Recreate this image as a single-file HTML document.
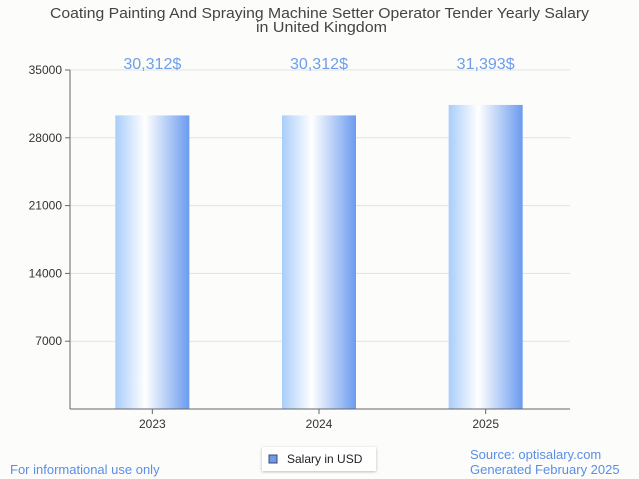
<!DOCTYPE html>
<html><head><meta charset="utf-8">
<style>
body{margin:0;background:#fcfcfa;font-family:"Liberation Sans",sans-serif;}
svg{display:block}
</style></head>
<body>
<svg width="639" height="479" viewBox="0 0 639 479">
<defs>
<linearGradient id="bg" x1="0" x2="1" y1="0" y2="0">
<stop offset="0" stop-color="#a9cdfa"/>
<stop offset="0.4" stop-color="#ffffff"/>
<stop offset="1" stop-color="#6b9bef"/>
</linearGradient>
<filter id="sh"><feDropShadow dx="0" dy="1" stdDeviation="1.5" flood-opacity="0.25"/></filter>
</defs>
<rect width="639" height="479" fill="#fcfcfa"/>
<text x="50" y="18" textLength="539" lengthAdjust="spacingAndGlyphs" font-size="15" fill="#444">Coating Painting And Spraying Machine Setter Operator Tender Yearly Salary</text>
<text x="256" y="32" textLength="131" lengthAdjust="spacingAndGlyphs" font-size="15" fill="#444">in United Kingdom</text>
<g id="grid"></g>
<g id="bars"></g>
<line x1="70" y1="70" x2="70" y2="409" stroke="#666"/>
<line x1="70" y1="409" x2="570" y2="409" stroke="#666"/>
<g>
<rect x="262" y="447" width="114" height="24" fill="#fff" filter="url(#sh)"/>
<rect x="269" y="455" width="8" height="8" fill="#6b9bef" stroke="#446"/>
<text x="287" y="463" font-size="12" fill="#222">Salary in USD</text>
</g>
<text x="10" y="474" font-size="13" fill="#5b8ee6">For informational use only</text>
<text x="470" y="459" font-size="13" fill="#5b8ee6">Source: optisalary.com</text>
<text x="470" y="474" font-size="13" fill="#5b8ee6">Generated February 2025</text>
</svg>
<script>
const categories=["2023","2024","2025"];
const salaries=[30312,30312,31393];
const valueLabels=["30,312$","30,312$","31,393$"];
const yTicks=[7000,14000,21000,28000,35000];
const NS="http://www.w3.org/2000/svg";
const y0=409,yTop=70,yMax=35000,xL=70,xR=570;
const yS=v=>y0-(v/yMax)*(y0-yTop);
const step=(xR-xL)/categories.length;
const xC=i=>xL+step*(i+0.5)-1;
function mk(t,a){const e=document.createElementNS(NS,t);for(const k in a)e.setAttribute(k,a[k]);return e;}
const grid=document.getElementById('grid');
yTicks.forEach(v=>{
const l=mk('line',{x1:xL,x2:xR,y1:yS(v),y2:yS(v),stroke:'#e2e2e2'});


grid.appendChild(l);
const tk=mk('line',{x1:xL-5,x2:xL,y1:yS(v),y2:yS(v),stroke:'#666'});


grid.appendChild(tk);
const t=mk('text',{x:xL-8,y:yS(v)+4,'text-anchor':'end','font-size':12,fill:'#333'});
t.textContent=v;


grid.appendChild(t);
});
const bars=document.getElementById('bars');
const bw=74;
categories.forEach((c,i)=>{
const cx=xC(i);
const r=mk('rect',{x:cx-bw/2,y:yS(salaries[i]),width:bw,height:y0-yS(salaries[i]),fill:'url(#bg)'});


bars.appendChild(r);
const v=mk('text',{x:cx,y:69,'text-anchor':'middle','font-size':16,fill:'#6d9eeb',textLength:58,lengthAdjust:'spacingAndGlyphs'});
v.textContent=valueLabels[i];


bars.appendChild(v);
const tk=mk('line',{x1:cx,x2:cx,y1:y0,y2:y0+5,stroke:'#666'});


bars.appendChild(tk);
const t=mk('text',{x:cx,y:428,'text-anchor':'middle','font-size':12,fill:'#333'});
t.textContent=c;


bars.appendChild(t);
});
</script>
</body></html>
